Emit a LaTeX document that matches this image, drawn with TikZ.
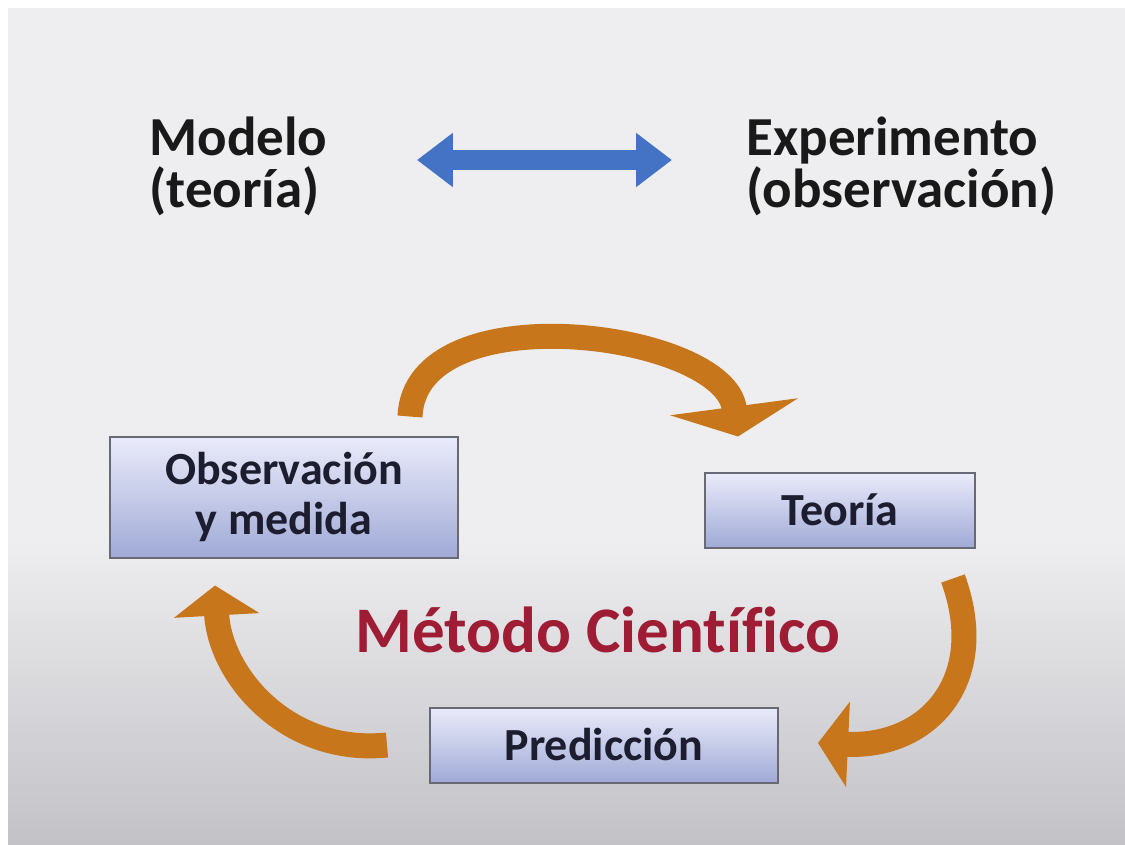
\documentclass[tikz,border=0pt]{standalone}
\usepackage{fontspec}
\setmainfont{Carlito}[Ligatures=CommonOff]
\usepackage{xcolor}
\usetikzlibrary{arrows.meta,positioning}

\definecolor{fondo}{RGB}{238,238,240}
\definecolor{fondobajo}{RGB}{194,194,199}
\definecolor{azul}{RGB}{68,114,196}
\definecolor{naranja}{RGB}{200,118,28}
\definecolor{granate}{RGB}{158,28,52}
\definecolor{cajaarriba}{RGB}{234,235,250}
\definecolor{cajaabajo}{RGB}{160,170,214}
\definecolor{borde}{RGB}{105,105,115}
\definecolor{tinta}{RGB}{28,30,48}

\tikzset{
  caja/.style={rectangle,draw=borde,line width=2pt,top color=cajaarriba,bottom color=cajaabajo,
    font=\bfseries\fontsize{46}{50}\selectfont,text=tinta,align=center,inner sep=0pt},
  titulo/.style={font=\bfseries\fontsize{55}{52}\selectfont,text=black!90,align=left,anchor=west},
  ciclo/.style={draw=naranja,line width=25pt,-{Triangle[width=#1,length=30pt]}},
  ciclo/.default=84pt,
  doble/.style={draw=azul,line width=20pt,{Triangle[width=52pt,length=36pt]}-{Triangle[width=52pt,length=36pt]}}
}

\begin{document}
\begin{tikzpicture}[x=1pt,y=-1pt]
  % fondo
  \fill[white] (0,0) rectangle (1125,845);
  \fill[fondo] (8,8) rectangle (1125,540);
  \shade[top color=fondo,bottom color=fondobajo] (8,539) rectangle (1125,845);
  \useasboundingbox (0,0) rectangle (1125,845);

  \node[titulo] (mod) at (146,166) {Modelo\\(teoría)};
  \node[titulo] (exp) at (743,166) {Experimento\\(observación)};
  \draw[doble] ([xshift=86,yshift=6]mod.east) -- ([xshift=-71,yshift=6]exp.west);

  \node[caja,minimum width=348,minimum height=121] (obs) at (284,497) {Observación\\y medida};
  \node[caja,minimum width=270,minimum height=75] (teo) at (840,510) {Teoría};
  \node[caja,minimum width=348,minimum height=75] (pre) at (604,745) {Predicción};
  \node[font=\bfseries\fontsize{65}{70}\selectfont,text=granate] (met) at (598,630) {Método Científico};

  \draw[ciclo=128pt] ([shift={(126,-19)}]obs.north) .. controls +(5,-125) and +(-14,-105) .. ([shift={(-102,-35)}]teo.north);
  \draw[ciclo] ([shift={(113,30)}]teo.south) .. controls +(37,102) and +(110,5) .. ([shift={(39,-2)}]pre.east);
  \draw[ciclo] ([shift={(-42,0)}]pre.west) .. controls +(-100,10) and +(5,90) .. ([shift={(-69,27)}]obs.south);
\end{tikzpicture}
\end{document}
